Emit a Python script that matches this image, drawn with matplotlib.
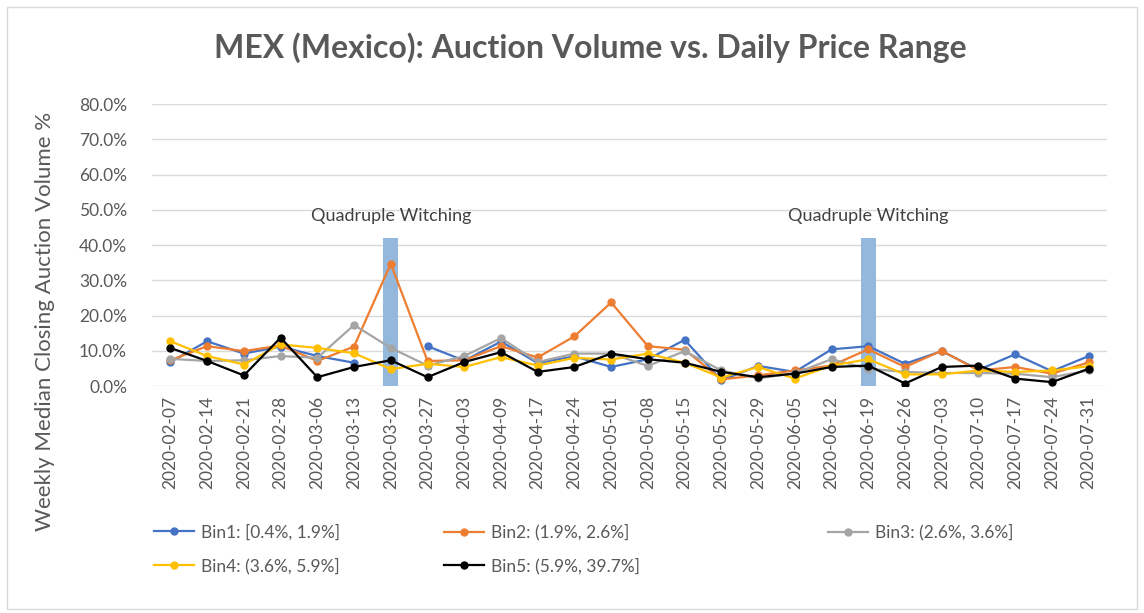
import numpy as np
import matplotlib.pyplot as plt
from matplotlib.patches import Rectangle

plt.rcParams['font.family'] = ['Lato', 'DejaVu Sans']

# week labels
dates = ["2020-02-07", "2020-02-14", "2020-02-21", "2020-02-28", "2020-03-06",
         "2020-03-13", "2020-03-20", "2020-03-27", "2020-04-03", "2020-04-09",
         "2020-04-17", "2020-04-24", "2020-05-01", "2020-05-08", "2020-05-15",
         "2020-05-22", "2020-05-29", "2020-06-05", "2020-06-12", "2020-06-19",
         "2020-06-26", "2020-07-03", "2020-07-10", "2020-07-17", "2020-07-24",
         "2020-07-31"]

# weekly median closing auction volume (%), one list per price-range bin
bin1 = [6.8, 12.7, 9.2, 11.2, 8.5, 6.6, np.nan, 11.3, 7.2, 12.6, 6.5, 8.4, 5.4,
        7.6, 13.1, 1.6, 5.7, 4.0, 10.4, 11.3, 6.3, 9.9, 4.6, 9.0, 4.2, 8.5]
bin2 = [7.3, 11.3, 9.9, 11.5, 7.1, 11.2, 34.7, 7.1, 7.3, 11.3, 8.1, 14.1, 23.7,
        11.3, 10.3, 1.9, 3.0, 4.4, 5.8, 10.4, 5.4, 10.0, 4.4, 5.4, 3.5, 6.7]
bin3 = [7.7, 7.1, 7.3, 8.5, 8.0, 17.3, 10.8, 5.8, 8.5, 13.6, 6.8, 9.2, 9.2,
        5.7, 9.9, 4.4, 2.2, 3.6, 7.6, 4.9, 4.0, 3.7, 3.7, 3.5, 2.5, 4.4]
bin4 = [12.7, 8.5, 6.1, 11.8, 10.8, 9.3, 4.8, 6.3, 5.4, 8.2, 5.8, 8.0, 7.5,
        9.2, 6.6, 2.4, 5.4, 2.1, 5.8, 7.6, 3.3, 3.3, 4.4, 4.0, 4.4, 5.6]
bin5 = [10.8, 7.1, 3.0, 13.7, 2.5, 5.4, 7.3, 2.5, 6.8, 9.6, 4.0, 5.4, 9.2,
        7.6, 6.6, 4.0, 2.5, 3.5, 5.4, 5.8, 0.7, 5.4, 5.8, 2.1, 1.1, 4.9]

series_names = ["Bin1: [0.4%, 1.9%]", "Bin2: (1.9%, 2.6%]", "Bin3: (2.6%, 3.6%]",
                "Bin4: (3.6%, 5.9%]", "Bin5: (5.9%, 39.7%]"]
colors = ["#4472C4", "#ED7D31", "#A5A5A5", "#FFC000", "#000000"]

# quadruple witching weeks
witching_weeks = ["2020-03-20", "2020-06-19"]
witching_height = 42.0

txt = "#595959"
fig = plt.figure(figsize=(11.44, 6.13), dpi=100)
ax = fig.add_axes([0.1329, 0.3703, 0.8348, 0.46])

x = np.arange(len(dates))
wx = [dates.index(d) for d in witching_weeks]
ax.bar(wx, [witching_height] * len(wx), width=0.4, color="#93B8DC", zorder=1)
for xi in wx:
    ax.text(xi, 48.2, "Quadruple Witching", ha="center", va="center",
            fontsize=13, color="#404040")

handles = []
for vals, name, c in zip([bin1, bin2, bin3, bin4, bin5], series_names, colors):
    h, = ax.plot(x, vals, color=c, lw=1.6, marker="o", ms=5, label=name, zorder=3)
    handles.append(h)

ax.set_xlim(-0.5, len(dates) - 0.5)
ax.set_ylim(0, 80)
ax.set_yticks(np.arange(0, 81, 10))
ax.set_yticklabels([f"{v:.1f}%" for v in np.arange(0, 81, 10)])
ax.set_xticks(x)
ax.set_xticklabels(dates, rotation=90)
ax.tick_params(axis="both", length=0, colors=txt, labelsize=12.5)
ax.tick_params(axis="y", pad=18)
ax.tick_params(axis="x", pad=7)
ax.grid(axis="y", color="#D9D9D9", lw=1)
ax.set_axisbelow(True)
for s in ax.spines.values():
    s.set_visible(False)

fig.text(0.039, 0.475, "Weekly Median Closing Auction Volume %", rotation=90,
         ha="center", va="center", fontsize=16, color=txt)
fig.text(0.516, 0.923, "MEX (Mexico): Auction Volume vs. Daily Price Range",
         ha="center", va="center", fontsize=23, fontweight="bold", color=txt)

# legend laid out in three uneven columns
cols = [([0, 3], 154), ([1, 4], 444), ([2], 828)]
for idx, px in cols:
    leg = fig.legend([handles[i] for i in idx], [series_names[i] for i in idx],
                     loc="upper left", bbox_to_anchor=(px / 1144, 1 - 524 / 613),
                     frameon=False, fontsize=12.5, handlelength=2.3,
                     handletextpad=0.4, borderpad=0, borderaxespad=0,
                     labelspacing=1.0)
    for t in leg.get_texts():
        t.set_color(txt)

fig.patches.append(Rectangle((7 / 1144, 4 / 613), 1130 / 1144, 602 / 613,
                             transform=fig.transFigure, fill=False,
                             edgecolor="#D9D9D9", lw=1))

plt.savefig("out.png", dpi=100)
